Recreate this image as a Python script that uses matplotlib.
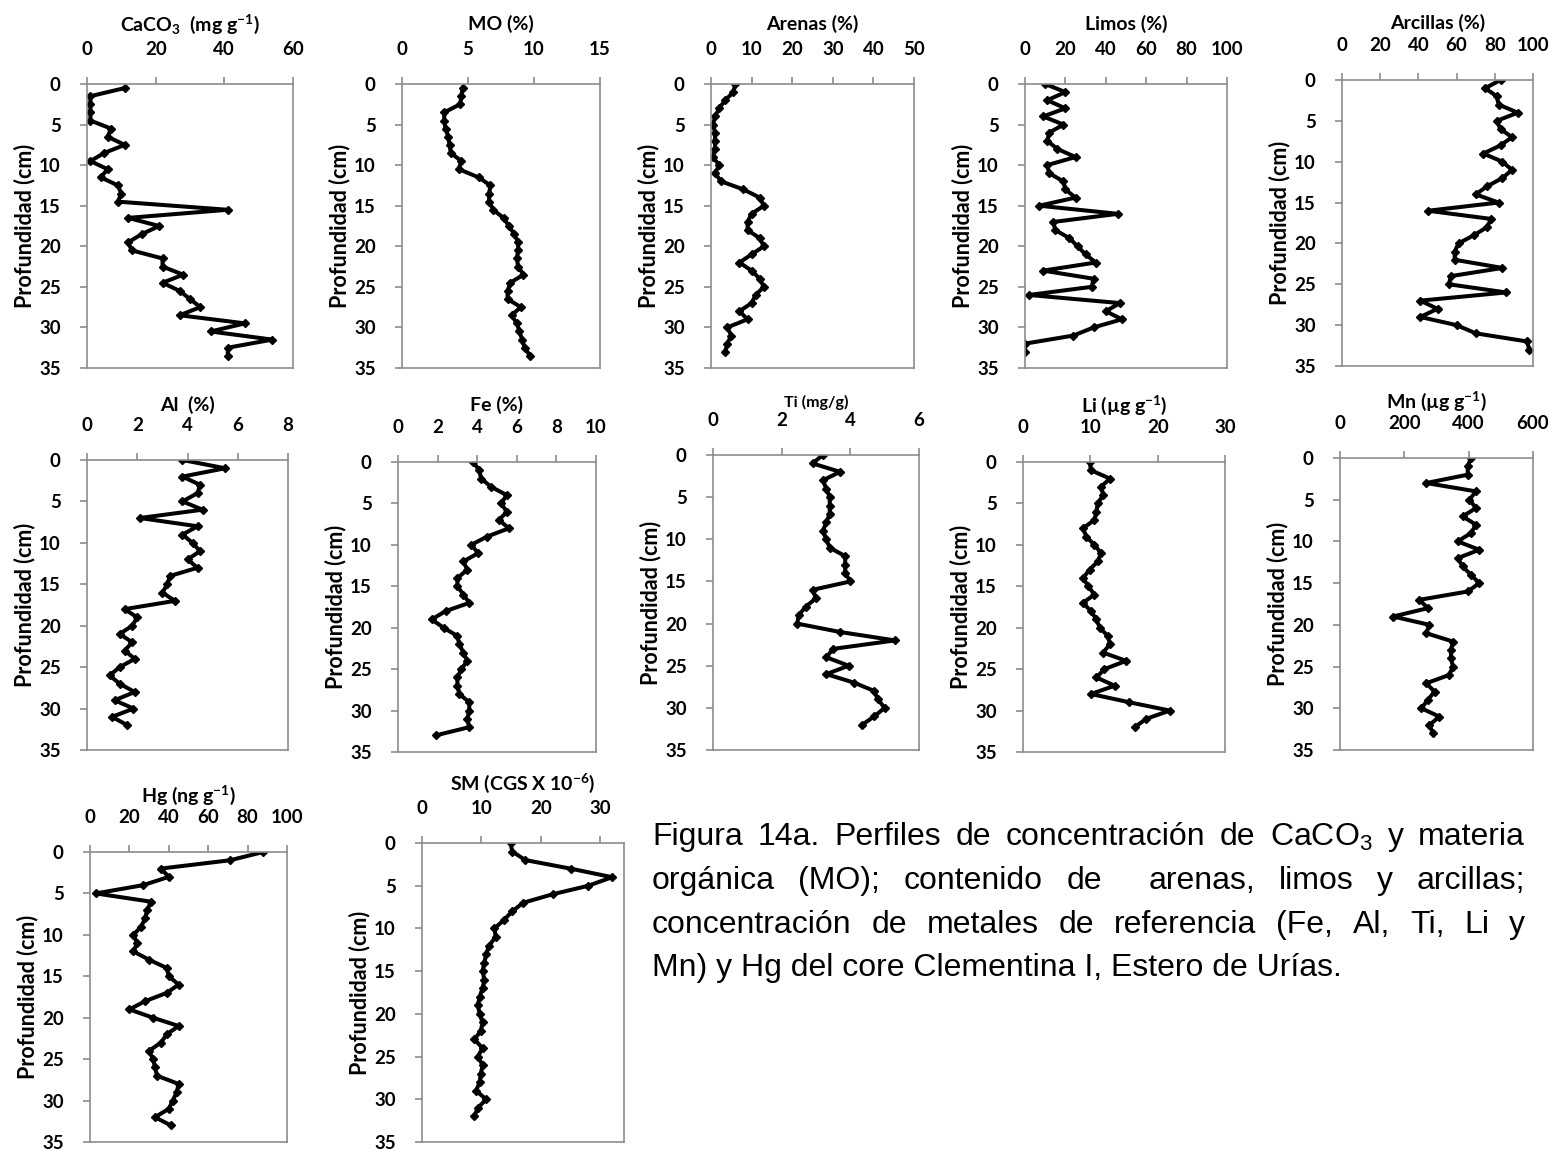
import numpy as np
import matplotlib.pyplot as plt

plt.rcParams['font.family'] = ['Lato', 'DejaVu Sans']
plt.rcParams['mathtext.default'] = 'regular'

# profundidades (cm)
prof_caco3 = [0.5, 1.5, 2.5, 3.5, 4.5, 5.5, 6.5, 7.5, 8.5, 9.5, 10.5, 11.5,
              12.5, 13.5, 14.5, 15.5, 16.5, 17.5, 18.5, 19.5, 20.5, 21.5,
              22.5, 23.5, 24.5, 25.5, 26.5, 27.5, 28.5, 29.5, 30.5, 31.5,
              32.5, 33.5]
prof_34 = [0, 1, 2, 3, 4, 5, 6, 7, 8, 9, 10, 11, 12, 13, 14, 15, 16, 17, 18,
           19, 20, 21, 22, 23, 24, 25, 26, 27, 28, 29, 30, 31, 32, 33]
prof_33 = prof_34[:33]

# valores
caco3 = [11, 1, 1, 1, 1, 7, 6, 11, 5, 1, 6, 4, 9, 10, 9, 41, 12, 21, 16, 12,
         13, 22, 22, 28, 22, 27, 30, 33, 27, 46, 36, 54, 41, 41]
mo = [4.6, 4.5, 4.4, 3.2, 3.2, 3.3, 3.5, 3.6, 3.7, 4.5, 4.3, 5.8, 6.7, 6.6,
      6.6, 6.9, 7.7, 8.1, 8.5, 8.8, 8.8, 8.7, 8.8, 9.2, 8.2, 8.0, 8.0, 9.0,
      8.3, 8.7, 8.9, 9.1, 9.3, 9.7]
arenas = [6, 5.5, 3.5, 2, 1, 0.5, 1, 1, 1, 0.5, 2, 1, 2.5, 8, 12, 13, 10, 9,
          9, 12, 13, 10, 7, 10, 12, 13, 11, 10, 7, 9, 4, 5, 4, 3.5]
limos = [10, 20, 11, 20, 9, 19, 12, 11, 16, 25, 11, 12, 19, 20, 25, 7, 46,
         14, 15, 22, 26, 30, 35, 9, 34, 33, 2, 47, 40, 48, 34, 24, 0, 0]
arcillas = [83, 75, 81, 82, 92, 81, 83, 89, 83, 74, 84, 89, 84, 76, 70, 82,
            45, 78, 76, 69, 61, 59, 59, 84, 57, 56, 86, 41, 50, 41, 60, 70,
            97, 98]
al = [3.8, 5.5, 3.8, 4.5, 4.4, 3.8, 4.6, 2.1, 4.4, 3.8, 4.2, 4.5, 4.0, 4.4,
      3.3, 3.2, 3.0, 3.5, 1.5, 2.0, 1.8, 1.3, 1.8, 1.5, 1.9, 1.3, 0.9, 1.3,
      1.9, 1.1, 1.85, 1.0, 1.6]
fe = [3.8, 4.1, 4.2, 4.7, 5.5, 5.2, 5.5, 5.1, 5.6, 4.5, 3.7, 4.05, 3.3, 3.5,
      3.0, 3.0, 3.3, 3.6, 2.4, 1.7, 2.3, 3.0, 3.1, 3.3, 3.5, 3.2, 3.0, 3.0,
      3.1, 3.6, 3.6, 3.5, 3.6, 1.9]
ti = [3.2, 2.9, 3.7, 3.2, 3.3, 3.4, 3.4, 3.4, 3.3, 3.2, 3.3, 3.4, 3.85, 3.85,
      3.85, 4.0, 2.9, 3.0, 2.7, 2.5, 2.45, 3.7, 5.3, 3.5, 3.3, 3.95, 3.3,
      4.1, 4.7, 4.8, 5.0, 4.7, 4.35]
li = [9.9, 10.1, 12.9, 11.6, 11.9, 11.1, 10.9, 10.6, 8.9, 9.4, 10.6, 11.6,
      11.1, 9.9, 8.9, 9.7, 10.6, 8.9, 10.1, 10.9, 11.4, 12.6, 12.9, 11.9,
      15.3, 12.1, 10.9, 13.6, 10.1, 15.8, 21.8, 18.3, 16.6]
mn = [407, 397, 397, 268, 423, 402, 423, 381, 423, 407, 366, 433, 366, 381,
      407, 433, 397, 247, 273, 165, 278, 268, 351, 345, 345, 351, 340, 268,
      294, 273, 253, 309, 278, 289]
hg = [88, 71, 36, 40, 27, 3, 31, 29, 28, 26, 22, 24, 22, 30, 39, 40, 45, 39,
      28, 20, 32, 45, 39, 36, 30, 32, 33, 34, 45, 44, 42, 40, 33, 41]
sm = [14.9, 15.2, 17.4, 25, 32, 28, 22, 17, 15.2, 13.8, 12.2, 12.4, 11.3,
      10.8, 10.5, 10.2, 10.5, 10.2, 9.7, 9.4, 9.7, 10.2, 9.9, 8.8, 10.2, 9.4,
      10.2, 9.9, 9.7, 9.1, 10.8, 9.4, 8.8]

titulos = ['CaCO$_3$  (mg g$^{-1}$)', 'MO (%)', 'Arenas (%)', 'Limos (%)',
           'Arcillas (%)', 'Al  (%)', 'Fe (%)', 'Ti (mg/g)',
           'Li (µg g$^{-1}$)', 'Mn (µg g$^{-1}$)', 'Hg (ng g$^{-1}$)',
           'SM (CGS X 10$^{-6}$)']
xmax = [60, 15, 50, 100, 100, 8, 10, 6, 30, 600, 100, 34]
xpaso = [20, 5, 10, 20, 20, 2, 2, 2, 10, 200, 20, 10]

leyenda = ['Figura 14a. Perfiles de concentración de CaCO$_3$ y materia',
           'orgánica (MO); contenido de  arenas, limos y arcillas;',
           'concentración de metales de referencia (Fe, Al, Ti, Li y',
           'Mn) y Hg del core Clementina I, Estero de Urías.']

W, H = 1558, 1152
fig = plt.figure(figsize=(W / 100, H / 100), dpi=100)
fig.patch.set_facecolor('white')

# cajas en pixeles (izq, arriba, der, abajo) y separacion del titulo
cajas = [(87, 84, 293, 368), (402, 84, 600, 368), (711, 84, 914, 368),
         (1025, 84, 1227, 368), (1342, 80, 1533, 366),
         (87, 460, 288, 750), (398, 462, 596, 752), (713, 455, 919, 750),
         (1023, 462, 1225, 752), (1340, 458, 1533, 750),
         (90, 852, 287, 1142), (422, 843, 624, 1142)]
sep_titulo = [60, 60, 60, 60, 57, 55, 57, 53, 57, 57, 57, 60]

series = [(caco3, prof_caco3), (mo, prof_caco3), (arenas, prof_34),
          (limos, prof_34), (arcillas, prof_34), (al, prof_33),
          (fe, prof_34), (ti, prof_33), (li, prof_33), (mn, prof_34),
          (hg, prof_34), (sm, prof_33)]

gris = '#8c8c8c'
for i, (vals, prof) in enumerate(series):
    l, t, r, b = cajas[i]
    ax = fig.add_axes([l / W, 1 - b / H, (r - l) / W, (b - t) / H])
    ax.plot(vals, prof, color='black', lw=2.9, marker='D', ms=4.5,
            solid_joinstyle='round')
    ax.set_xlim(0, xmax[i])
    ax.set_ylim(35, 0)
    ax.xaxis.tick_top()
    ax.set_xticks(np.arange(0, xmax[i] + 0.01, xpaso[i]))
    ax.set_yticks(range(0, 36, 5))
    ax.tick_params(direction='out', length=5, color=gris, width=1.2,
                   labelsize=13.5, pad=14)
    for lab in ax.get_xticklabels() + ax.get_yticklabels():
        lab.set_fontweight('bold')
    for s in ax.spines.values():
        s.set_color(gris)
        s.set_linewidth(1.2)
    alto = b - t
    ax.text(0.5, 1 + sep_titulo[i] / alto, titulos[i], transform=ax.transAxes,
            ha='center', va='center', fontweight='bold',
            fontsize=11.5 if i == 7 else 14)
    ax.set_ylabel('Profundidad (cm)', fontweight='bold', fontsize=15.5)
    ax.yaxis.set_label_coords(-52 / (r - l), 0.5)

# leyenda justificada
renderer = fig.canvas.get_renderer()
x0, x1 = 652 / W, 1525 / W
leyenda_y = [837, 881, 925, 968]
fuente = dict(family=['Liberation Sans', 'DejaVu Sans'], fontsize=23,
              va='center', ha='left')
for k, linea in enumerate(leyenda):
    y = 1 - leyenda_y[k] / H
    if k == len(leyenda) - 1:
        fig.text(x0, y, linea, **fuente)
        continue
    palabras = linea.split(' ')
    textos = [fig.text(0, y, p, **fuente) for p in palabras]
    anchos = [tx.get_window_extent(renderer).width / W if p else 0
              for tx, p in zip(textos, palabras)]
    hueco = (x1 - x0 - sum(anchos)) / (len(palabras) - 1)
    x = x0
    for tx, a in zip(textos, anchos):
        tx.set_x(x)
        x += a + hueco

fig.savefig('out.png', dpi=100, facecolor='white')
